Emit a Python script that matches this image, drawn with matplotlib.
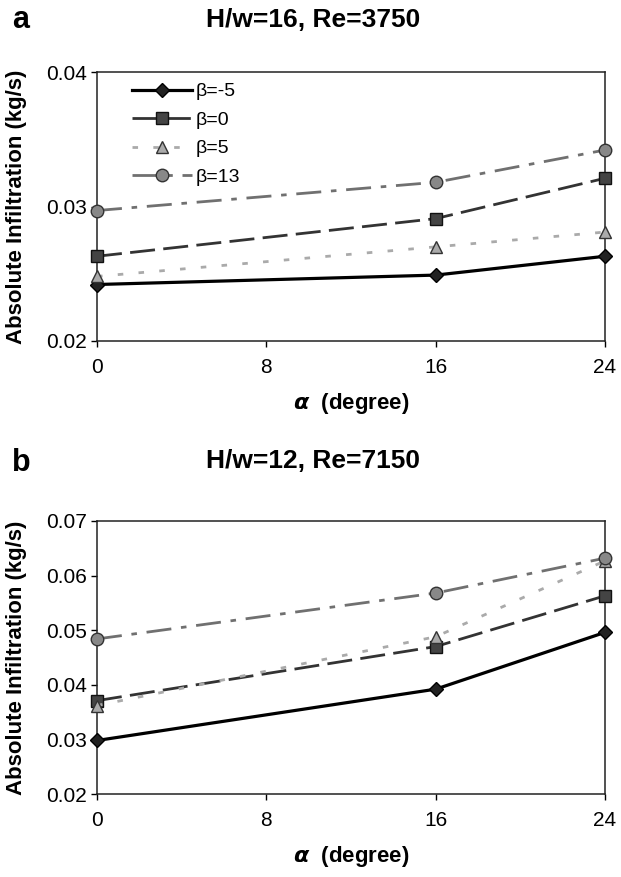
import numpy as np
import matplotlib as mpl
import matplotlib.pyplot as plt

mpl.rcParams['font.family'] = ['Liberation Sans', 'DejaVu Sans']

# 数据
alpha = [0, 16, 24]
labels = ['β=-5', 'β=0', 'β=5', 'β=13']

a_b_m5 = [0.0242, 0.0249, 0.0263]
a_b_0 = [0.0263, 0.0291, 0.0321]
a_b_5 = [0.0248, 0.0270, 0.0281]
a_b_13 = [0.0297, 0.0318, 0.0342]

b_b_m5 = [0.0298, 0.0392, 0.0496]
b_b_0 = [0.0371, 0.0470, 0.0563]
b_b_5 = [0.0362, 0.0488, 0.0627]
b_b_13 = [0.0484, 0.0568, 0.0632]

xticks = [0, 8, 16, 24]

# 线型
styles = [
    dict(color='black', lw=2.3, ls='-', marker='D', ms=7, mfc='#222222', mec='black'),
    dict(color='#333333', lw=2.0, ls=(0, (9, 3)), marker='s', ms=9, mfc='#444444', mec='#111111'),
    dict(color='#aaaaaa', lw=2.0, ls=(0, (2, 5.5)), marker='^', ms=9, mfc='#aaaaaa', mec='#333333'),
    dict(color='#707070', lw=2.0, ls=(0, (9, 3.5, 2, 3.5)), marker='o', ms=9, mfc='#888888', mec='#333333'),
]

W, H = 621, 877
fig = plt.figure(figsize=(W / 100, H / 100), dpi=100)

def panel(top, bottom, series, ylim, yticks, title, letter, title_y, letter_y, legend):
    rect = [97 / W, 1 - bottom / H, (605 - 97) / W, (bottom - top) / H]
    ax = fig.add_axes(rect)
    for ys, st, lab in zip(series, styles, labels):
        ax.plot(alpha, ys, label=lab, clip_on=False, zorder=3, **st)
    ax.set_xlim(0, 24)
    ax.set_ylim(*ylim)
    ax.set_xticks(xticks)
    ax.set_yticks(yticks)
    ax.set_yticklabels(['%.2f' % v for v in yticks])
    ax.tick_params(labelsize=15, length=4.5, width=1, direction='out', pad=3)
    ax.tick_params(axis='x', pad=8)
    for s in ax.spines.values():
        s.set_linewidth(1.1)
        s.set_color('#222222')
    ax.set_xlabel(r'$\boldsymbol{\alpha}$  (degree)', fontsize=16, fontweight='bold', labelpad=10)
    fig.text(16.5 / W, 1 - (top + bottom) / 2 / H, 'Absolute Infiltration (kg/s)', rotation=90,
             fontsize=16, fontweight='bold', ha='center', va='center')
    fig.text(313 / W, 1 - title_y / H, title, fontsize=19, fontweight='bold', ha='center', va='center')
    fig.text(21 / W, 1 - letter_y / H, letter, fontsize=22, fontweight='bold', ha='center', va='center')
    if legend:
        ax.legend(loc='upper left', bbox_to_anchor=(0.069, 0.96), frameon=False, fontsize=14,
                  handlelength=3.1, handletextpad=0.15, labelspacing=0.56, borderaxespad=0,
                  borderpad=0)
    return ax

panel(72, 341, [a_b_m5, a_b_0, a_b_5, a_b_13],
      (0.02, 0.04), [0.02, 0.03, 0.04], 'H/w=16, Re=3750', 'a', 20, 20, True)
panel(521, 794, [b_b_m5, b_b_0, b_b_5, b_b_13],
      (0.02, 0.07), [0.02, 0.03, 0.04, 0.05, 0.06, 0.07], 'H/w=12, Re=7150', 'b', 461, 463, False)

plt.savefig('out.png', dpi=100)
